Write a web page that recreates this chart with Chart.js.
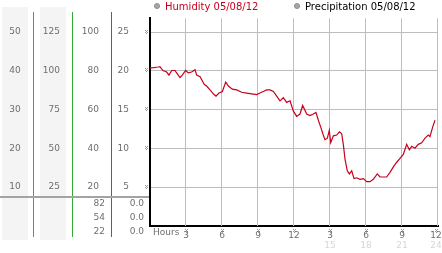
<!DOCTYPE html>
<html>
<head>
<meta charset="utf-8">
<script src="https://cdn.jsdelivr.net/npm/chart.js@4"></script>
<style>
  html, body { margin: 0; padding: 0; background: #fff; }
  canvas { display: block; }
</style>
</head>
<body>
<canvas id="humChart" width="442" height="253"></canvas>
<script>
/* ---------- data ---------- */
const hours = [
  0.00, 0.69, 0.83, 1.08, 1.39, 1.58, 1.81, 2.08, 2.22, 2.50, 2.69, 2.97, 3.19, 3.47, 3.75, 3.89,
  4.17, 4.31, 4.53, 4.72, 5.00, 5.28, 5.50, 5.75, 6.03, 6.31, 6.53, 6.86, 7.22, 7.64, 8.06, 8.47,
  8.89, 9.17, 9.44, 9.72, 10.00, 10.28, 10.56, 10.83, 11.11, 11.39, 11.67, 11.94, 12.22, 12.50,
  12.72, 13.06, 13.33, 13.61, 13.83, 14.03, 14.22, 14.44, 14.58, 14.78, 14.94, 15.06, 15.28, 15.56,
  15.78, 15.97, 16.11, 16.25, 16.44, 16.61, 16.81, 17.00, 17.22, 17.50, 17.78, 18.06, 18.33, 18.61,
  18.94, 19.17, 19.44, 19.72, 20.00, 20.28, 20.56, 20.83, 21.11, 21.39, 21.61, 21.81, 22.08, 22.36,
  22.64, 22.92, 23.19, 23.33, 23.56, 23.75
];
const humidity = [
  20.3, 20.45, 20.5, 20.0, 19.8, 19.4, 20.0, 20.0, 19.7, 19.1, 19.4, 20.0, 19.7, 19.8, 20.1, 19.4,
  19.2, 18.8, 18.2, 18.0, 17.5, 17.0, 16.7, 17.1, 17.3, 18.5, 18.0, 17.6, 17.5, 17.2, 17.1, 17.0,
  16.9, 17.1, 17.3, 17.5, 17.5, 17.3, 16.7, 16.1, 16.5, 15.9, 16.1, 14.8, 14.1, 14.4,
  15.5, 14.4, 14.2, 14.4, 14.6, 13.6, 12.75, 11.7, 11.1, 11.3, 12.3, 10.7, 11.6, 11.7,
  12.1, 11.9, 10.5, 8.6, 7.1, 6.7, 7.1, 6.1, 6.2, 6.0, 6.1, 5.7, 5.7, 6.0,
  6.7, 6.3, 6.3, 6.3, 6.9, 7.6, 8.2, 8.7, 9.2, 10.5, 9.8, 10.25, 10.0, 10.5,
  10.7, 11.3, 11.7, 11.5, 12.75, 13.6
];
const precipitation = [];
const seriesNames = ['Humidity 05/08/12', 'Precipitation 05/08/12'];

const hourTicks = [3, 6, 9, 12, 15, 18, 21, 24];
const hourLabels = ['3', '6', '9', '12', '3', '6', '9', '12'];
const hourLabels24 = ['', '', '', '', '15', '18', '21', '24'];

const mainTicks = [25, 20, 15, 10, 5];
const col1Ticks = [50, 40, 30, 20, 10];
const col2Ticks = [125, 100, 75, 50, 25];
const col3Ticks = [100, 80, 60, 40, 20];
const col3Bottom = ['82', '54', '22'];
const col4Bottom = ['0.0', '0.0', '0.0'];

/* ---------- look ---------- */
const FONT = '9px "DejaVu Sans"';
const TXT = '#6e6e6e';
const LINE_RED = '#c8001e';
const GRID = '#bdbdbd';

// panneau gauche : filets de couleur
const panelLines = [
  { x: 33.5, color: '#3399cc' },
  { x: 72.5, color: '#33aa33' },
  { x: 111.5, color: '#cc3333' }
];

// petit repère "※" en pixels
function drawMark(ctx, cx, cy) {
  const px = Math.round(cx) - 1;
  const py = Math.round(cy) - 2;
  ctx.fillStyle = '#9a9a9a';
  [[0, 0], [2, 0], [1, 1], [0, 2], [2, 2], [1, 3]].forEach(([dx, dy]) => {
    ctx.fillRect(px + dx, py + dy, 1, 1);
  });
}

const sidePanelPlugin = {
  id: 'sidePanel',

  beforeDraw(chart) {
    const { ctx, chartArea } = chart;
    ctx.save();
    // bandes grises
    ctx.fillStyle = '#f4f4f4';
    ctx.fillRect(2, 7, 26, 233);
    ctx.fillRect(40, 7, 26, 233);

    // filets verticaux
    panelLines.forEach(l => {
      ctx.strokeStyle = l.color;
      ctx.lineWidth = 1;
      ctx.beginPath();
      ctx.moveTo(l.x, 12);
      ctx.lineTo(l.x, 237);
      ctx.stroke();
    });

    // séparateur horizontal
    const sepY = chartArea.bottom - 29;
    ctx.strokeStyle = '#a3a3a3';
    ctx.lineWidth = 2;
    ctx.beginPath();
    ctx.moveTo(0, sepY);
    ctx.lineTo(chartArea.left, sepY);
    ctx.stroke();
    ctx.restore();
  },

  // grille sous la courbe
  beforeDatasetsDraw(chart) {
    const { ctx, chartArea } = chart;
    const x = chart.scales.x;
    const y = chart.scales.y;
    ctx.save();
    ctx.lineWidth = 1;
    ctx.strokeStyle = GRID;
    ctx.beginPath();
    mainTicks.forEach(v => {
      const py = Math.round(y.getPixelForValue(v)) + 0.5;
      ctx.moveTo(chartArea.left + 1, py);
      ctx.lineTo(chartArea.right, py);
    });
    hourTicks.forEach(h => {
      const px = Math.round(x.getPixelForValue(h)) - 0.5;
      ctx.moveTo(px, chartArea.top);
      ctx.lineTo(px, chartArea.bottom);
    });
    ctx.stroke();
    ctx.restore();
  },

  afterDraw(chart) {
    const { ctx, chartArea } = chart;
    const x = chart.scales.x;
    const y = chart.scales.y;
    ctx.save();
    ctx.font = FONT;
    ctx.fillStyle = TXT;
    ctx.textBaseline = 'middle';

    /* ---------- colonnes de gauche ---------- */
    mainTicks.forEach((v, i) => {
      const py = y.getPixelForValue(v);
      ctx.fillStyle = TXT;
      ctx.textAlign = 'center';
      ctx.fillText(String(col1Ticks[i]), 15, py);
      ctx.textAlign = 'right';
      ctx.fillText(String(col2Ticks[i]), 60, py);
      ctx.fillText(String(col3Ticks[i]), 99, py);
      drawMark(ctx, chartArea.left - 4, py);
    });

    // petit tableau sous le séparateur
    ctx.fillStyle = TXT;
    col3Bottom.forEach((t, i) => {
      const py = chartArea.bottom - 22 + i * 14;
      ctx.textAlign = 'right';
      ctx.fillText(t, 105, py);
      ctx.fillText(col4Bottom[i], 144, py);
    });

    /* ---------- axe des heures ---------- */
    ctx.textAlign = 'left';
    ctx.fillText('Hours', chartArea.left + 3, chartArea.bottom + 7);

    hourTicks.forEach((h, i) => {
      let px = x.getPixelForValue(h);
      if (i === hourTicks.length - 1) px -= 2;
      drawMark(ctx, px, chartArea.bottom + 5);
      ctx.textAlign = 'center';
      ctx.fillStyle = TXT;
      ctx.fillText(hourLabels[i], px, chartArea.bottom + 10);
      if (hourLabels24[i]) {
        ctx.fillStyle = '#d6d6d6';
        ctx.fillText(hourLabels24[i], px, chartArea.bottom + 20);
      }
    });

    /* ---------- légende ---------- */
    const legendX = [chartArea.left + 7, chartArea.left + 147];
    const legendColors = [LINE_RED, '#000'];
    ctx.font = '10px "DejaVu Sans"';
    seriesNames.forEach((name, i) => {
      const lx = legendX[i];
      ctx.beginPath();
      ctx.arc(lx, 6, 2.5, 0, Math.PI * 2);
      ctx.fillStyle = '#a8a8a8';
      ctx.fill();
      ctx.strokeStyle = '#8a8a8a';
      ctx.lineWidth = 1;
      ctx.stroke();
      ctx.fillStyle = legendColors[i];
      ctx.textAlign = 'left';
      ctx.fillText(name, lx + 8, 7);
    });

    ctx.restore();
  }
};

new Chart(document.getElementById('humChart'), {
  type: 'line',
  data: {
    datasets: [
      {
        label: seriesNames[0],
        data: hours.map((h, i) => ({ x: h, y: humidity[i] })),
        borderColor: LINE_RED,
        borderWidth: 1.2,
        pointRadius: 0,
        tension: 0,
        fill: false
      },
      {
        label: seriesNames[1],
        data: precipitation,
        borderColor: '#000',
        borderWidth: 1,
        pointRadius: 0
      }
    ]
  },
  options: {
    responsive: false,
    animation: false,
    layout: { padding: { top: 13, right: 4, left: 0, bottom: 0 } },
    plugins: {
      legend: { display: false },
      tooltip: { enabled: false }
    },
    scales: {
      x: {
        type: 'linear',
        min: 0,
        max: 24,
        afterBuildTicks: s => { s.ticks = hourTicks.map(v => ({ value: v })); },
        afterFit: s => { s.height = 27; },
        ticks: { display: false },
        grid: { display: false },
        border: { color: '#000', width: 2 }
      },
      y: {
        min: 0,
        max: 26.7,
        afterBuildTicks: s => { s.ticks = mainTicks.map(v => ({ value: v })); },
        afterFit: s => { s.width = 150; },
        ticks: {
          color: TXT,
          font: { family: 'DejaVu Sans', size: 9 },
          padding: 13
        },
        grid: { display: false },
        border: { color: '#000', width: 2 }
      }
    }
  },
  plugins: [sidePanelPlugin]
});
</script>
</body>
</html>
